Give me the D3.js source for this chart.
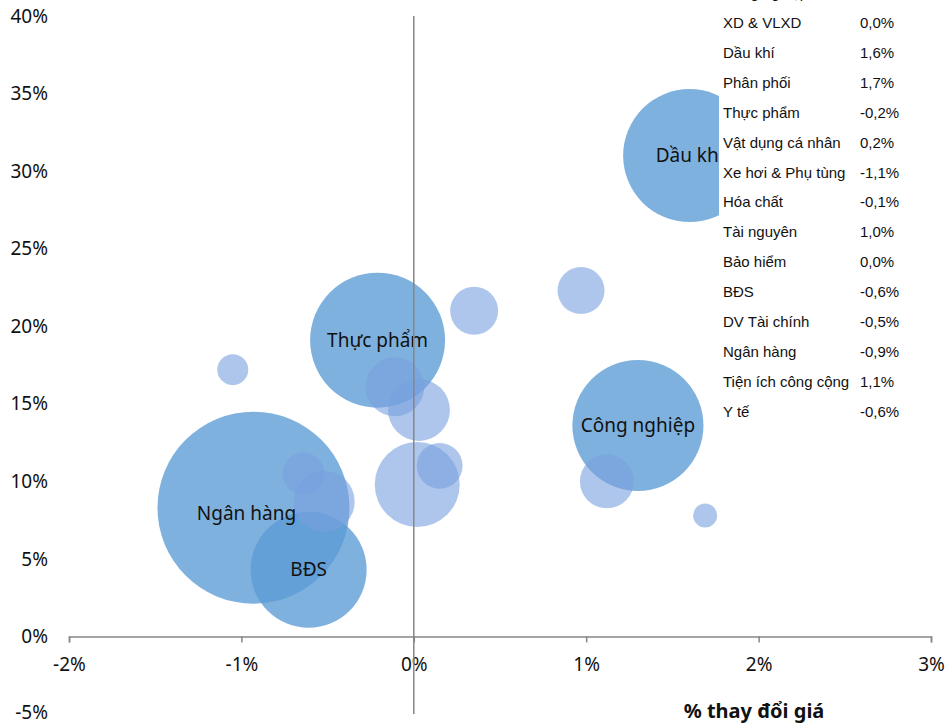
<!DOCTYPE html>
<html>
<head>
<meta charset="utf-8">
<script src="https://cdn.jsdelivr.net/npm/d3@7"></script>
<style>
  body { margin: 0; background: #fff; }
  svg { display: block; }
</style>
</head>
<body>
<div class="chart"></div>
<script>
// sectors: price change (%), return (%), size (relative market cap)
const sectors = ['Ngân hàng', 'Thực phẩm', 'Dầu khí', 'Công nghiệp', 'BĐS',
  'XD & VLXD', 'Bảo hiểm', 'DV Tài chính', 'Hóa chất', 'Tiện ích công cộng',
  'Công nghệ', 'Tài nguyên', 'Vật dụng cá nhân', 'Y tế', 'Xe hơi & Phụ tùng', 'Phân phối'];
const priceChange = [-0.93, -0.21, 1.60, 1.30, -0.61,
  0.02, 0.03, -0.52, -0.11, 1.12,
  0.35, 0.97, 0.15, -0.64, -1.05, 1.69];
const yValues = [8.3, 19.1, 31.0, 13.6, 4.3,
  9.8, 14.6, 8.7, 16.1, 10.0,
  21.0, 22.3, 11.0, 10.5, 17.2, 7.8];
const sizes = [100, 49.4, 48, 46.6, 36.5,
  19.6, 10.4, 10.1, 9.4, 7.9,
  6.25, 6.0, 5.7, 4.8, 2.6, 1.56];
const labeled = ['Ngân hàng', 'Thực phẩm', 'Dầu khí', 'Công nghiệp', 'BĐS'];

// table in the top right corner (first row is cut by the top edge)
const tableNames = ['Công nghiệp', 'XD & VLXD', 'Dầu khí', 'Phân phối', 'Thực phẩm',
  'Vật dụng cá nhân', 'Xe hơi & Phụ tùng', 'Hóa chất', 'Tài nguyên', 'Bảo hiểm',
  'BĐS', 'DV Tài chính', 'Ngân hàng', 'Tiện ích công cộng', 'Y tế'];
const tableValues = ['1,3%', '0,0%', '1,6%', '1,7%', '-0,2%',
  '0,2%', '-1,1%', '-0,1%', '1,0%', '0,0%',
  '-0,6%', '-0,5%', '-0,9%', '1,1%', '-0,6%'];

const xTicks = [-2, -1, 0, 1, 2, 3];
const yTicks = [-5, 0, 5, 10, 15, 20, 25, 30, 35, 40];

const width = 945, height = 723;
const svg = d3.select('div.chart').append('svg')
  .attr('width', width).attr('height', height);

const x = d3.scaleLinear().domain([-2, 3]).range([69, 931]);
const y = d3.scaleLinear().domain([-5, 40]).range([714, 16]);
const r = d3.scaleSqrt().domain([0, 100]).range([0, 96]);

const axisFont = "'Noto Sans', 'Open Sans', sans-serif";

// y tick labels (left side)
svg.append('g').selectAll('text')
  .data(yTicks)
  .enter().append('text')
    .attr('x', 48)
    .attr('y', d => y(d))
    .attr('dy', d => d === -5 ? '0.25em' : '0.35em')
    .attr('text-anchor', 'end')
    .style('font-family', axisFont)
    .style('font-size', '19px')
    .style('fill', '#111')
    .text(d => d + '%');

// bubbles
const data = sectors.map((s, i) => ({name: s, px: priceChange[i], py: yValues[i], size: sizes[i]}));
svg.append('g').attr('class', 'bubbles')
  .selectAll('circle')
  .data(data)
  .enter().append('circle')
    .attr('cx', d => x(d.px))
    .attr('cy', d => y(d.py))
    .attr('r', d => r(d.size))
    .style('fill', d => labeled.includes(d.name) ? 'rgb(91,155,213)' : 'rgb(120,160,222)')
    .style('fill-opacity', d => labeled.includes(d.name) ? 0.78 : 0.6);

svg.append('g').selectAll('text')
  .data(data.filter(d => labeled.includes(d.name)))
  .enter().append('text')
    .attr('x', d => x(d.px) + (d.name === 'Ngân hàng' ? -7 : 0))
    .attr('y', d => y(d.py) + (d.name === 'Ngân hàng' ? 6 : 0))
    .attr('dy', '0.35em')
    .attr('text-anchor', 'middle')
    .style('font-family', axisFont)
    .style('font-size', '19px')
    .style('fill', '#111')
    .text(d => d.name);

// x axis
const xAxis = svg.append('g')
  .attr('transform', `translate(0,${y(0)})`)
  .call(d3.axisBottom(x).tickValues(xTicks).tickFormat(d => d + '%').tickSize(6).tickPadding(15));
xAxis.select('.domain').attr('stroke', '#868686').attr('stroke-width', 1.5);
xAxis.selectAll('.tick line').attr('stroke', '#868686').attr('stroke-width', 1.5);
xAxis.selectAll('.tick text')
  .style('font-family', axisFont)
  .style('font-size', '19px')
  .style('fill', '#111');

// vertical axis line at x = 0
svg.append('line')
  .attr('x1', x(0)).attr('x2', x(0))
  .attr('y1', y(40)).attr('y2', y(-5))
  .attr('stroke', '#868686')
  .attr('stroke-width', 1.5);

svg.append('text')
  .attr('x', 754)
  .attr('y', 718)
  .attr('text-anchor', 'middle')
  .style('font-family', axisFont)
  .style('font-size', '20px')
  .style('font-weight', 'bold')
  .style('fill', '#111')
  .text('% thay đổi giá');

// table box (covers part of the chart)
const table = svg.append('g').attr('class', 'table');
table.append('rect')
  .attr('x', 719).attr('y', 0)
  .attr('width', width - 719).attr('height', 428)
  .style('fill', '#fff');
table.selectAll('text.name')
  .data(tableNames)
  .enter().append('text')
    .attr('class', 'name')
    .attr('x', 723)
    .attr('y', (d, i) => 28 + (i - 1) * 29.9)
    .style('font-family', "'Liberation Sans', Arial, sans-serif")
    .style('font-size', '15px')
    .style('fill', '#111')
    .text(d => d);
table.selectAll('text.val')
  .data(tableValues)
  .enter().append('text')
    .attr('class', 'val')
    .attr('x', 860)
    .attr('y', (d, i) => 28 + (i - 1) * 29.9)
    .style('font-family', "'Liberation Sans', Arial, sans-serif")
    .style('font-size', '15px')
    .style('fill', '#111')
    .text(d => d);
</script>
</body>
</html>
